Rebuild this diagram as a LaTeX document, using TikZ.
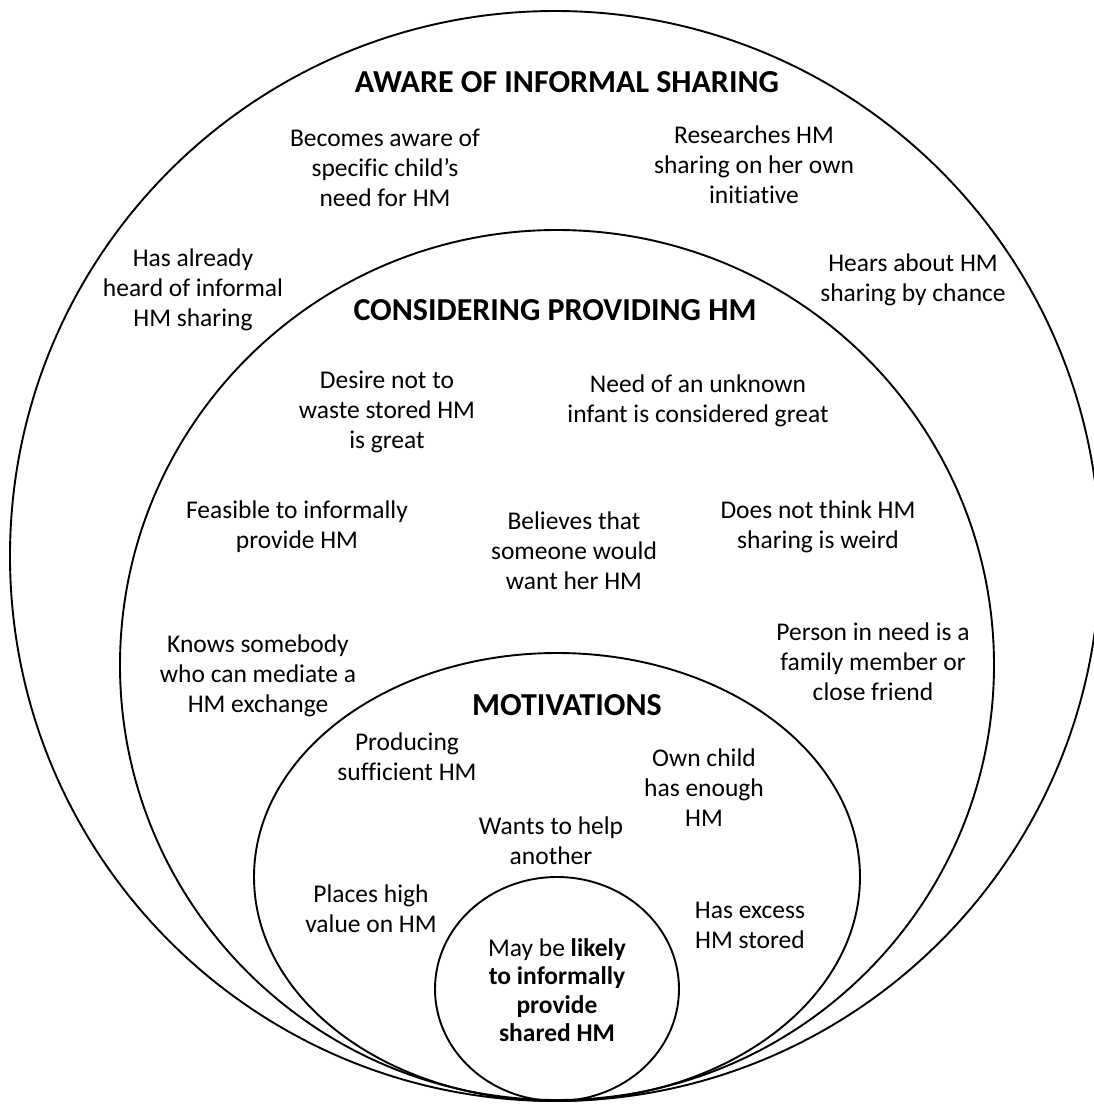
\documentclass[tikz,border=0pt]{standalone}
\usepackage{fontspec}
\setmainfont{Carlito}[Ligatures={NoCommon}]
\usetikzlibrary{shapes.geometric}
\begin{document}
\begin{tikzpicture}[x=1pt,y=-1pt,
  ring/.style={draw, ellipse, line width=1.9pt, inner sep=0pt},
  lbl/.style={align=center, inner sep=0pt, font=\fontsize{25.5}{30}\selectfont},
  ttl/.style={align=center, inner sep=0pt, font=\fontsize{32}{34}\selectfont\bfseries}]
\useasboundingbox[fill=white] (0,0) rectangle (1094,1104);
% rings
\node[ring, minimum width=1090pt, minimum height=1090pt] (aware) at (555,556) {};
\node[ring, minimum width=874pt, minimum height=870pt] (consider) at (557,665) {};
\node[ring, minimum width=606pt, minimum height=448pt] (motiv) at (557,877) {};
\node[ring, minimum width=244pt, minimum height=224pt] (core) at (557,989) {};
% titles
\node[ttl] (t1) at (567,82) {AWARE OF INFORMAL SHARING};
\node[ttl] (t2) at (555,310) {CONSIDERING PROVIDING HM};
\node[ttl] (t3) at (567,705) {MOTIVATIONS};
% aware labels
\node[lbl] (a1) at (385,168) {Becomes aware of\\specific child’s\\need for HM};
\node[lbl] (a2) at (754,165) {Researches HM\\sharing on her own\\initiative};
\node[lbl] (a3) at (193,290) {Has already\\heard of informal\\HM sharing};
\node[lbl] (a4) at (913,280) {Hears about HM\\sharing by chance};
% considering labels
\node[lbl] (c1) at (387,412) {Desire not to\\waste stored HM\\is great};
\node[lbl] (c2) at (698,401) {Need of an unknown\\infant is considered great};
\node[lbl] (c3) at (297,527) {Feasible to informally\\provide HM};
\node[lbl] (c4) at (574,551) {Believes that\\someone would\\want her HM};
\node[lbl] (c5) at (818,527) {Does not think HM\\sharing is weird};
\node[lbl] (c6) at (258,676) {Knows somebody\\who can mediate a\\HM exchange};
\node[lbl] (c7) at (873,662) {Person in need is a\\family member or\\close friend};
% motivations labels
\node[lbl] (m1) at (407,757) {Producing\\sufficient HM};
\node[lbl] (m2) at (704,788) {Own child\\has enough\\HM};
\node[lbl] (m3) at (551,841) {Wants to help\\another};
\node[lbl] (m4) at (371,909) {Places high\\value on HM};
\node[lbl] (m5) at (750,925) {Has excess\\HM stored};
% core
\node[lbl, font=\fontsize{25.5}{28.5}\selectfont] (k) at (557,990) {May be \textbf{likely}\\\textbf{to informally}\\\textbf{provide}\\\textbf{shared HM}};
\end{tikzpicture}
\end{document}
